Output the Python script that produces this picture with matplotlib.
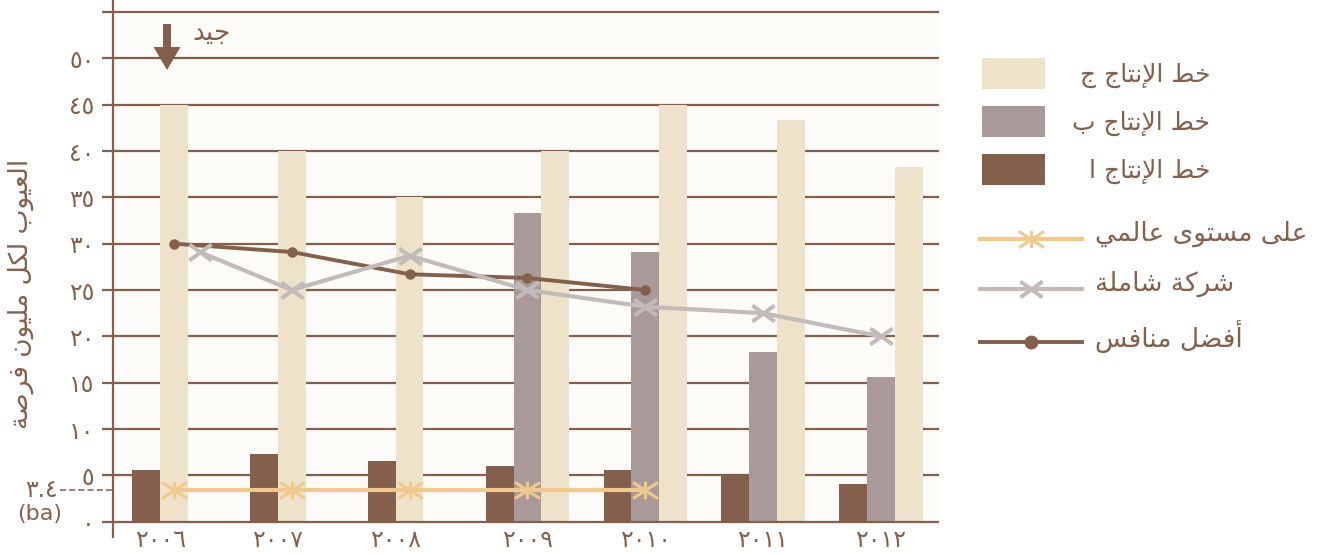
import numpy as np
import matplotlib
matplotlib.use("Agg")
import matplotlib.pyplot as plt
from matplotlib.path import Path
from matplotlib.patches import Rectangle, FancyArrow
from matplotlib.lines import Line2D

plt.rcParams["font.family"] = ["DejaVu Sans"]

# ---------------------------------------------------------------- data
years = ["٢٠٠٦", "٢٠٠٧", "٢٠٠٨", "٢٠٠٩", "٢٠١٠", "٢٠١١", "٢٠١٢"]
line_a = [5.6, 7.3, 6.5, 6.0, 5.6, 5.0, 4.1]
line_b = [None, None, None, 33.3, 29.1, 18.3, 15.6]
line_c = [45.0, 40.0, 35.0, 40.0, 45.0, 43.3, 38.3]
world_class = [3.4, 3.4, 3.4, 3.4, 3.4]
company = [29.1, 25.0, 28.7, 25.0, 23.2, 22.5, 20.0]
best_rival = [30.0, 29.1, 26.7, 26.3, 25.0]

bar_labels = ["خط الإنتاج ا", "خط الإنتاج ب", "خط الإنتاج ج"]
line_labels = ["على مستوى عالمي", "شركة شاملة", "أفضل منافس"]
y_title = "العيوب لكل مليون فرصة"
good_text = "جيد"
world_value_text = "٣.٤"
world_unit_text = "(ba)"
y_ticks = list(range(0, 56, 5))

# ---------------------------------------------------------------- colours
BROWN = "#84604C"
MAUVE = "#A99A99"
CREAM = "#EEE2CB"
PLOT_BG = "#FCFBF8"
GOLD = "#EFC98D"
GREY = "#C3BBBA"

# ---------------------------------------------------------------- arabic shaping
_FORMS = {
    "\u0621": (0xFE80, 1), "\u0622": (0xFE81, 2), "\u0623": (0xFE83, 2),
    "\u0624": (0xFE85, 2), "\u0625": (0xFE87, 2), "\u0626": (0xFE89, 4),
    "\u0627": (0xFE8D, 2), "\u0628": (0xFE8F, 4), "\u0629": (0xFE93, 2),
    "\u062A": (0xFE95, 4), "\u062B": (0xFE99, 4), "\u062C": (0xFE9D, 4),
    "\u062D": (0xFEA1, 4), "\u062E": (0xFEA5, 4), "\u062F": (0xFEA9, 2),
    "\u0630": (0xFEAB, 2), "\u0631": (0xFEAD, 2), "\u0632": (0xFEAF, 2),
    "\u0633": (0xFEB1, 4), "\u0634": (0xFEB5, 4), "\u0635": (0xFEB9, 4),
    "\u0636": (0xFEBD, 4), "\u0637": (0xFEC1, 4), "\u0638": (0xFEC5, 4),
    "\u0639": (0xFEC9, 4), "\u063A": (0xFECD, 4), "\u0641": (0xFED1, 4),
    "\u0642": (0xFED5, 4), "\u0643": (0xFED9, 4), "\u0644": (0xFEDD, 4),
    "\u0645": (0xFEE1, 4), "\u0646": (0xFEE5, 4), "\u0647": (0xFEE9, 4),
    "\u0648": (0xFEED, 2), "\u0649": (0xFEEF, 2), "\u064A": (0xFEF1, 4),
}
_LAM_ALEF = {"\u0622": 0xFEF5, "\u0623": 0xFEF7, "\u0625": 0xFEF9, "\u0627": 0xFEFB}


def shape(text):
    """Contextual forms + right-to-left visual order for Arabic text."""
    units = []
    i = 0
    while i < len(text):
        ch = text[i]
        if ch == "\u0644" and i + 1 < len(text) and text[i + 1] in _LAM_ALEF:
            units.append((_LAM_ALEF[text[i + 1]], 2))
            i += 2
            continue
        units.append(_FORMS.get(ch, ch))
        i += 1
    out = []
    for k, u in enumerate(units):
        if isinstance(u, str):
            out.append(u)
            continue
        base, n = u
        prev = units[k - 1] if k > 0 else None
        nxt = units[k + 1] if k + 1 < len(units) else None
        join_prev = isinstance(prev, tuple) and prev[1] == 4
        join_next = n == 4 and isinstance(nxt, tuple)
        if n == 1:
            form = 0
        elif join_prev and join_next:
            form = 3
        elif join_next:
            form = 2
        elif join_prev:
            form = 1
        else:
            form = 0
        out.append(chr(base + form))
    return "".join(reversed(out))


def indic(n):
    return str(n).translate(str.maketrans("0123456789", "٠١٢٣٤٥٦٧٨٩"))


# ---------------------------------------------------------------- figure
W, H = 1335, 555
fig = plt.figure(figsize=(W / 100, H / 100), dpi=100)
fig.patch.set_facecolor("white")

# axes frame in pixels
x_left, x_right = 113, 939
y_zero, y_top = 521.7, 12.0
ppu = (y_zero - y_top) / 55.0
ypad = 0.25
ax_bot = y_zero + ypad * ppu
ax_top = y_top - ypad * ppu
ax = fig.add_axes([x_left / W, 1 - ax_bot / H, (x_right - x_left) / W, (ax_bot - ax_top) / H])
ax.set_facecolor(PLOT_BG)

step_px = 117.8
first_px = 174.0
w = 27.8 / step_px
ax.set_xlim((x_left - first_px) / step_px, (x_right - first_px) / step_px)
ax.set_ylim(-ypad, 55 + ypad)

for s in ["top", "right", "bottom"]:
    ax.spines[s].set_visible(False)
ax.spines["left"].set_color(BROWN)
ax.spines["left"].set_linewidth(1.6)
ax.spines["left"].set_bounds(-(537 - y_zero) / ppu, y_zero / ppu)

# horizontal rules
for v in y_ticks:
    ax.axhline(v, color=BROWN, lw=1.6, zorder=1 if v else 3)

ax.set_yticks(y_ticks)
ax.set_yticklabels([indic(v) if v <= 50 else "" for v in y_ticks])
ax.tick_params(axis="y", length=7.9, width=1.6, color=BROWN, pad=5.5,
               labelsize=17, labelcolor=BROWN)

# grouped bars: present series are packed from the left of each group
series = [(line_a, BROWN), (line_b, MAUVE), (line_c, CREAM)]
idx = np.arange(len(years))
centers = []
for i in idx:
    present = [(vals[i], col) for vals, col in series if vals[i] is not None]
    start = i - 1.5 * w
    for k, (val, col) in enumerate(present):
        ax.bar(start + k * w, val, width=w, align="edge", color=col,
               linewidth=0, zorder=2)
    centers.append(start + len(present) * w / 2)

ax.set_xticks(centers)
ax.set_xticklabels(years)
ax.tick_params(axis="x", length=0, pad=3, labelsize=17, labelcolor=BROWN)

# marker shapes
star = Path([(0, -0.7), (0, 0.7), (-1, -0.65), (1, 0.65), (-1, 0.65), (1, -0.65)],
            [Path.MOVETO, Path.LINETO] * 3)
cross = Path([(-1, -0.72), (1, 0.72), (-1, 0.72), (1, -0.72)],
             [Path.MOVETO, Path.LINETO] * 2)

ax.plot(idx[:len(world_class)], world_class, color=GOLD, lw=3, marker=star,
        ms=18, mew=2.2, mec=GOLD, zorder=4)
ax.plot(idx[:len(best_rival)], best_rival, color=BROWN, lw=2.8, marker="o",
        ms=6.5, mec=BROWN, mfc=BROWN, zorder=4.5)
company_x = idx.astype(float)
company_x[0] += 0.22
ax.plot(company_x, company, color=GREY, lw=3.0, marker=cross, ms=16, mew=2.9,
        mec=GREY, zorder=5)

# world-class reference label on the axis
ytr = ax.get_yaxis_transform()
ax.plot([(60 - x_left) / (x_right - x_left), 0], [world_class[0]] * 2, transform=ytr,
        color=BROWN, lw=1.1, ls=(0, (4, 2)), clip_on=False)
ax.text((58 - x_left) / (x_right - x_left), world_class[0], world_value_text,
        transform=ytr, ha="right", va="center", fontsize=17, color=BROWN)
ax.annotate(world_unit_text, xy=((40 - x_left) / (x_right - x_left), world_class[0]),
            xycoords=ytr, xytext=(0, -17), textcoords="offset points",
            ha="center", va="center", fontsize=16, color=BROWN)

# overlay in pixel units for titles, arrow and legend
ov = fig.add_axes([0, 0, 1, 1], zorder=10)
ov.set_xlim(0, W)
ov.set_ylim(H, 0)
ov.axis("off")
ov.patch.set_alpha(0)

fig.text(21 / W, 1 - 294 / H, shape(y_title), rotation=90, ha="center",
         va="center", fontsize=19, color=BROWN)

ov.add_patch(FancyArrow(167, 24, 0, 46, width=8, head_width=27, head_length=23,
                        length_includes_head=True, color=BROWN, lw=0))
ov.text(192, 33, shape(good_text), ha="left", va="center", fontsize=19, color=BROWN)

# legend: bar swatches
for (lab, col, yc) in zip(reversed(bar_labels), [CREAM, MAUVE, BROWN], [73.5, 121.5, 169.5]):
    ov.add_patch(Rectangle((982, yc - 15.5), 63, 31, color=col, lw=0))
    ov.text(1210, yc + 1.5, shape(lab), ha="right", va="center", fontsize=18, color=BROWN)

# legend: line samples
line_styles = [
    dict(color=GOLD, lw=3, marker=star, ms=18, mew=2.2, mec=GOLD),
    dict(color=GREY, lw=3.0, marker=cross, ms=16, mew=2.9, mec=GREY),
    dict(color=BROWN, lw=2.8, marker="o", ms=9, mec=BROWN, mfc=BROWN),
]
for lab, st, yc in zip(line_labels, line_styles, [239, 289, 342]):
    ov.add_line(Line2D([980, 1082], [yc, yc], **{k: v for k, v in st.items()
                                                if k not in ("marker", "ms", "mew", "mec", "mfc")}))
    ov.add_line(Line2D([1031], [yc], linestyle="none",
                       **{k: v for k, v in st.items() if k not in ("lw",)}))
    ov.text(1095, yc - 5, shape(lab), ha="left", va="center", fontsize=19, color=BROWN)

fig.savefig("out.png", dpi=100, facecolor="white")
